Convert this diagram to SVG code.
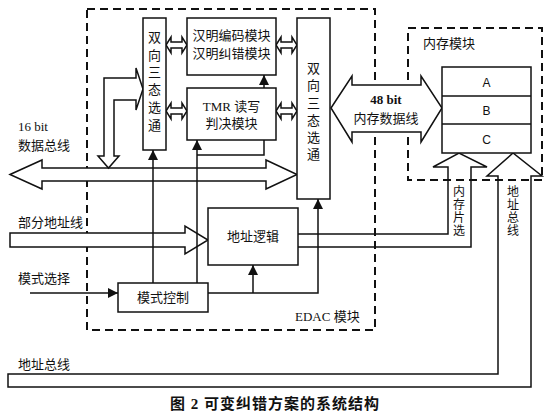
<svg xmlns="http://www.w3.org/2000/svg" width="548" height="420" viewBox="0 0 548 420">
<style>
.box{fill:#fff;stroke:#111;stroke-width:1.5}
.dash{fill:none;stroke:#111;stroke-width:2;stroke-dasharray:8,5}
.bus{fill:#fff;stroke:#111;stroke-width:1.5;stroke-linejoin:miter}
.busn{fill:none;stroke:#111;stroke-width:1.5;stroke-linejoin:miter}
.ln{fill:none;stroke:#111;stroke-width:1.5}
.t{font-family:"Liberation Serif","Noto Sans CJK SC",serif;font-size:13px;fill:#111}
.c{text-anchor:middle}
</style>
<defs>
<marker id="ah2" viewBox="0 0 10 10" refX="10" refY="5" markerWidth="10" markerHeight="10" markerUnits="userSpaceOnUse" orient="auto"><path d="M0,0 L10,5 L0,10 Z" fill="#111"/></marker>
</defs>
<rect width="548" height="420" fill="#fff"/>

<g id="edac-frame">
<path class="dash" d="M87,9 H375 V330 H87 Z"/>
<text class="t" x="295" y="321">EDAC 模块</text>
</g>
<g id="memory-frame">
<path class="dash" d="M408,28 H542 V180 H408 Z"/>
<text class="t" x="423" y="48">内存模块</text>
</g>

<g id="buses">
<path id="bus16" class="bus" d="M10,174.5 L42,160 L42,168 L266,168 L266,160 L297,174.5 L266,189 L266,181 L42,181 L42,189 Z"/>
<path id="bus-addr-part" class="bus" d="M10,233 L185,233 L185,226 L208,240 L185,254 L185,247 L10,247 Z"/>
<path id="bus48" class="bus" d="M331,108 L352,76 L352,85 L421,85 L421,76 L442,108 L421,142 L421,132 L352,132 L352,142 Z"/>
<path id="bus-sel-left" class="bus" d="M98,156 L104,156 L104,78 L136,78 L136,68 L143,89 L136,110 L136,100 L114,100 L114,156 L119,156 L108.5,168 Z"/>
<path id="da1" class="bus" d="M166,45 L171,37 L171,42 L182,42 L182,37 L187,45 L182,53 L182,48 L171,48 L171,53 Z"/>
<path id="da2" class="bus" d="M166,111 L171,103 L171,108 L182,108 L182,103 L187,111 L182,119 L182,114 L171,114 L171,119 Z"/>
<path id="da3" class="bus" d="M276,45 L281,37 L281,42 L292,42 L292,37 L297,45 L292,53 L292,48 L281,48 L281,53 Z"/>
<path id="da4" class="bus" d="M276,111 L281,103 L281,108 L292,108 L292,103 L297,111 L292,119 L292,114 L281,114 L281,119 Z"/>
<path id="bus-cs" class="busn" d="M298,234 L448,234 L448,167 L433,167 L459,153 L487,167 L471,167 L471,247 L298,247"/>
<path id="bus-addr" class="busn" d="M8,374 L498,374 L498,176 L487,176 L513,153 L542,176 L531,176 L531,387 L8,387 Z"/>
</g>

<g id="connectors">
<path class="ln" d="M30,293 H118" marker-end="url(#ah2)"/>
<path class="ln" d="M153,283 V150" marker-end="url(#ah2)"/>
<path class="ln" d="M197,283 V140" marker-end="url(#ah2)"/>
<path class="ln" d="M197,155 H264 V75" marker-end="url(#ah2)"/>
<path class="ln" d="M208,293 H318 V199" marker-end="url(#ah2)"/>
<path class="ln" d="M253,293 V265" marker-end="url(#ah2)"/>
</g>

<g id="sel-left">
<rect class="box" x="143" y="18" width="23" height="132"/>
<text class="t c"><tspan x="154.5" y="42">双</tspan><tspan x="154.5" y="60">向</tspan><tspan x="154.5" y="77">三</tspan><tspan x="154.5" y="94">态</tspan><tspan x="154.5" y="112">选</tspan><tspan x="154.5" y="130">通</tspan></text>
</g>
<g id="hamming">
<rect class="box" x="187" y="18" width="89" height="57"/>
<text class="t c" x="231.5" y="40">汉明编码模块</text>
<text class="t c" x="231.5" y="58">汉明纠错模块</text>
</g>
<g id="tmr">
<rect class="box" x="187" y="88" width="89" height="52"/>
<text class="t c" x="231.5" y="111">TMR 读写</text>
<text class="t c" x="231.5" y="128">判决模块</text>
</g>
<g id="sel-right">
<rect class="box" x="297" y="18" width="33" height="181"/>
<text class="t c"><tspan x="313.5" y="73">双</tspan><tspan x="313.5" y="90">向</tspan><tspan x="313.5" y="108">三</tspan><tspan x="313.5" y="125">态</tspan><tspan x="313.5" y="142">选</tspan><tspan x="313.5" y="159">通</tspan></text>
</g>
<g id="addr-logic">
<rect class="box" x="208" y="208" width="90" height="57"/>
<text class="t c" x="253" y="241">地址逻辑</text>
</g>
<g id="mode-ctrl">
<rect class="box" x="118" y="283" width="90" height="29"/>
<text class="t c" x="163" y="302">模式控制</text>
</g>
<g id="memory">
<rect class="box" x="442" y="67" width="89" height="86"/>
<line class="ln" x1="442" y1="96" x2="531" y2="96"/>
<line class="ln" x1="442" y1="124" x2="531" y2="124"/>
<text class="t c" x="486.5" y="87" style="font-family:'Liberation Sans',sans-serif;font-size:12px">A</text>
<text class="t c" x="486.5" y="115" style="font-family:'Liberation Sans',sans-serif;font-size:12px">B</text>
<text class="t c" x="486.5" y="144" style="font-family:'Liberation Sans',sans-serif;font-size:12px">C</text>
</g>

<g id="labels">
<text class="t" x="18" y="131">16 bit</text>
<text class="t" x="18" y="150">数据总线</text>
<text class="t" x="18" y="227">部分地址线</text>
<text class="t" x="18" y="283">模式选择</text>
<text class="t" x="18" y="369">地址总线</text>
<text class="t c" x="386" y="104" style="font-weight:bold">48 bit</text>
<text class="t c" x="386" y="123">内存数据线</text>
<text class="t c" style="font-size:12px"><tspan x="459" y="196">内</tspan><tspan x="459" y="209">存</tspan><tspan x="459" y="222">片</tspan><tspan x="459" y="235">选</tspan></text>
<text class="t c" style="font-size:12px"><tspan x="513" y="196">地</tspan><tspan x="513" y="209">址</tspan><tspan x="513" y="222">总</tspan><tspan x="513" y="235">线</tspan></text>
<text class="t c" x="275" y="409" style="font-size:15px;font-weight:bold;letter-spacing:1px">图 2  可变纠错方案的系统结构</text>
</g>
</svg>
